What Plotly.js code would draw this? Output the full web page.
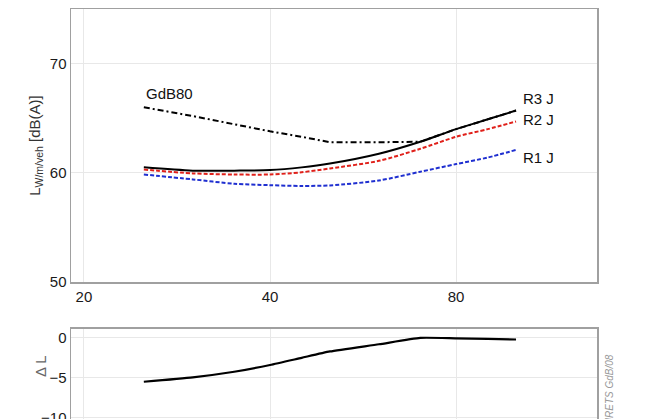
<!DOCTYPE html>
<html>
<head>
<meta charset="utf-8">
<script src="https://cdn.plot.ly/plotly-3.0.1.min.js"></script>
<style>html,body{margin:0;padding:0;background:#fff;}#chart{width:652px;height:419px;}</style>
</head>
<body>
<div id="chart"></div>
<script>
// Speeds (km/h)
const speeds = [25, 30, 35, 40, 45, 50, 60, 70, 80, 90, 100];
// Emission levels L_W/m/veh [dB(A)]
const gdb80 = [66.0, 65.2, 64.45, 63.8, 63.3, 62.8, 62.8, 62.85, 64.0, 64.9, 65.7];
const r3 = [60.5, 60.2, 60.2, 60.25, 60.5, 60.85, 61.75, 62.85, 64.0, 64.9, 65.7];
const r2 = [60.3, 59.95, 59.85, 59.85, 60.05, 60.4, 61.1, 62.2, 63.3, 64.0, 64.7];
const r1 = [59.85, 59.4, 59.0, 58.87, 58.8, 58.85, 59.3, 60.1, 60.8, 61.4, 62.1];
// Difference Δ L
const deltaL = [-5.5, -4.95, -4.25, -3.4, -2.5, -1.7, -0.8, 0.0, -0.05, -0.12, -0.2];
const xTicks = [20, 40, 80];
const labels = ["GdB80", "R3 J", "R2 J", "R1 J"];

const font = "Liberation Sans, Arial, sans-serif";
const traces = [
  {x: speeds, y: r3, type: 'scatter', mode: 'lines', line: {color: '#000', width: 2, shape: 'spline', smoothing: 0.8}, xaxis: 'x', yaxis: 'y'},
  {x: speeds, y: r2, type: 'scatter', mode: 'lines', line: {color: '#e0201a', width: 2, dash: '4px,2px', shape: 'spline', smoothing: 0.8}, xaxis: 'x', yaxis: 'y'},
  {x: speeds, y: r1, type: 'scatter', mode: 'lines', line: {color: '#1f2fd0', width: 2, dash: '4px,2px', shape: 'spline', smoothing: 0.8}, xaxis: 'x', yaxis: 'y'},
  {x: speeds, y: gdb80, type: 'scatter', mode: 'lines', line: {color: '#000', width: 2, dash: '6px,3px,2px,3px'}, xaxis: 'x', yaxis: 'y'},
  {x: speeds, y: deltaL, type: 'scatter', mode: 'lines', line: {color: '#000', width: 2.2, shape: 'spline', smoothing: 0.5}, xaxis: 'x2', yaxis: 'y2'}
];

const xr = [Math.log10(19.06), Math.log10(135.2)];
const axCommon = {
  showline: true, mirror: true, linecolor: '#a0a0a0', linewidth: 1.5,
  gridcolor: '#e8e8e8', gridwidth: 1, zeroline: false,
  ticks: '', tickfont: {family: font, size: 15, color: '#1a1a1a'}
};

const pw = 652 - 71 - 55, ph = 419 - 9;
const layout = {
  width: 652, height: 419,
  margin: {l: 71, r: 55, t: 9, b: 0},
  paper_bgcolor: '#fff', plot_bgcolor: '#fff',
  showlegend: false,
  font: {family: font},
  xaxis: Object.assign({}, axCommon, {type: 'log', range: xr, tickvals: xTicks, ticktext: xTicks.map(String), anchor: 'y', domain: [0, 1]}),
  yaxis: Object.assign({}, axCommon, {range: [50, 75], tickvals: [50, 60, 70], domain: [0.334, 1], anchor: 'x',
    title: {text: 'L<sub>W/m/veh</sub> [dB(A)]', font: {family: font, size: 15, color: '#333'}, standoff: 5}}),
  xaxis2: Object.assign({}, axCommon, {type: 'log', range: xr, tickvals: xTicks, showticklabels: false, anchor: 'y2', domain: [0, 1]}),
  yaxis2: Object.assign({}, axCommon, {range: [-10.17, 1.12], tickvals: [-10, -5, 0], domain: [0, 0.2196], anchor: 'x2',
    ticklabeloverflow: 'allow'}),
  annotations: [
    {x: Math.log10(25), y: 66.3, xref: 'x', yref: 'y', text: labels[0], showarrow: false, xanchor: 'left', yanchor: 'bottom', font: {family: font, size: 15, color: '#111'}},
    {x: Math.log10(102), y: 65.8, xref: 'x', yref: 'y', text: labels[1], showarrow: false, xanchor: 'left', yanchor: 'bottom', font: {family: font, size: 15, color: '#111'}},
    {x: Math.log10(102), y: 64.9, xref: 'x', yref: 'y', text: labels[2], showarrow: false, xanchor: 'left', yanchor: 'middle', font: {family: font, size: 15, color: '#111'}},
    {x: Math.log10(102), y: 61.4, xref: 'x', yref: 'y', text: labels[3], showarrow: false, xanchor: 'left', yanchor: 'middle', font: {family: font, size: 15, color: '#111'}},
    {x: (609 - 71) / pw, y: (419 - 352) / ph, xref: 'paper', yref: 'paper', text: '<i>INRETS GdB/08</i>', showarrow: false, textangle: -90,
     xanchor: 'center', yanchor: 'top', font: {family: font, size: 10, color: '#999'}},
    {x: (40 - 71) / pw, y: (419 - 366) / ph, xref: 'paper', yref: 'paper', text: 'Δ L', showarrow: false, textangle: -90,
     xanchor: 'center', yanchor: 'middle', font: {family: font, size: 15, color: '#666'}}
  ]
};

Plotly.newPlot('chart', traces, layout, {displayModeBar: false, staticPlot: true});
</script>
</body>
</html>
